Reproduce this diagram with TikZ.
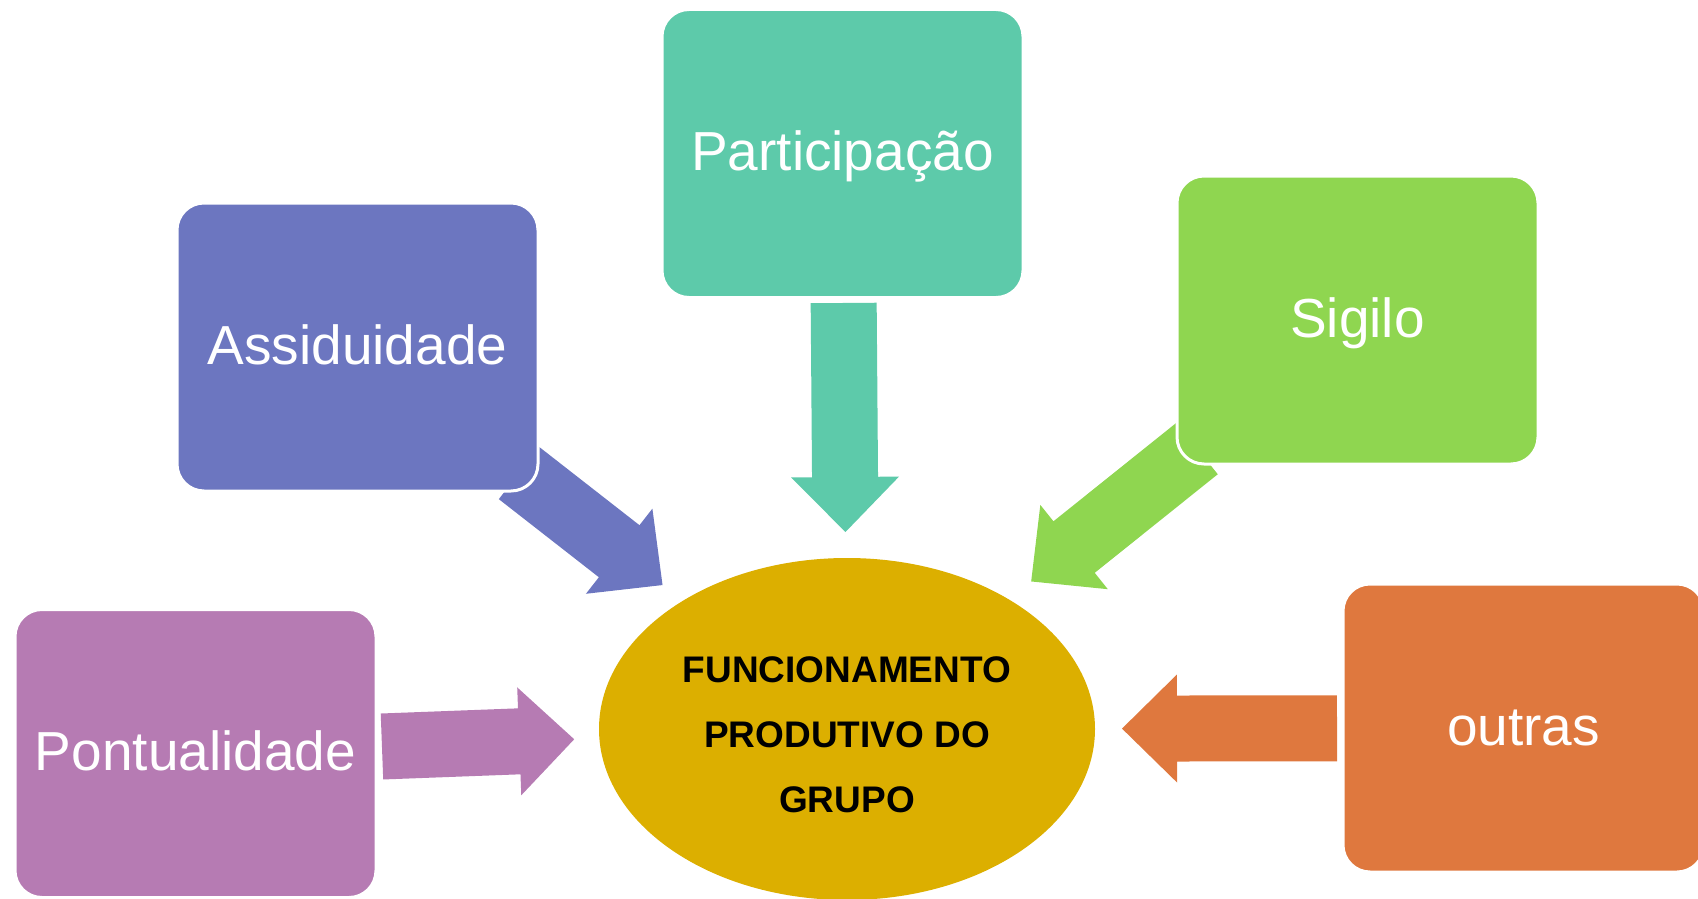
\documentclass[tikz,border=0pt]{standalone}
\usepackage{fontspec}
\setmainfont{Liberation Sans}
\usepackage{tikz}
\usetikzlibrary{calc,shapes.geometric,backgrounds}

\definecolor{assidcol}{HTML}{6C76C0}
\definecolor{particcol}{HTML}{5DCAAA}
\definecolor{sigilocol}{HTML}{8FD650}
\definecolor{pontualcol}{HTML}{B67BB3}
\definecolor{outrascol}{HTML}{DF783E}
\definecolor{fpgcol}{HTML}{DCAF00}

% block arrow: colour, from node, to node, gap at start, gap at tip
\newcommand{\blockarrow}[5]{%
  \coordinate (bs) at ($(#2.center)!#4!(#3.center)$);
  \coordinate (bt) at ($(#3.center)!#5!(#2.center)$);
  \coordinate (bh) at ($(bt)!55pt!(bs)$);
  \fill[#1] ($(bs)!33pt!90:(bt)$) -- ($(bh)!33pt!-90:(bs)$) -- ($(bh)!54pt!-90:(bs)$)
    -- (bt) -- ($(bh)!54pt!90:(bs)$) -- ($(bh)!33pt!90:(bs)$) -- ($(bs)!33pt!-90:(bt)$) -- cycle;
}

\begin{document}
\begin{tikzpicture}[x=1pt,y=-1pt,
  box/.style={rectangle,rounded corners=27pt,draw=white,line width=3pt,
    minimum width=361pt,minimum height=288pt,inner sep=0pt,
    text=white,font=\fontsize{55}{60}\selectfont,text height=34pt,text depth=0pt}]
  \useasboundingbox (0,0) rectangle (1698,899);

  \node (fpg) [ellipse,fill=fpgcol,minimum width=496pt,minimum height=342pt,inner sep=0pt]
    at (847,729) {};
  \node (fpgtext) [align=center,font=\fontsize{37}{65}\selectfont\bfseries]
    at ($(fpg.center)+(0,5.5)$) {FUNCIONAMENTO\\PRODUTIVO DO\\GRUPO};
  \node (assid) [box,fill=assidcol] at (357.5,347) {Assiduidade};
  \node (partic) [box,fill=particcol] at (842.5,153.5) {Participação};
  \node (sigilo) [box,fill=sigilocol] at (1357.5,320) {Sigilo};
  \node (pontual) [box,fill=pontualcol] at (195.5,753.5) {Pontualidade};
  \node (outras) [box,fill=outrascol] at (1523.5,728) {outras};

  \begin{pgfonlayer}{background}
    \blockarrow{assidcol}{assid}{fpg}{205pt}{234pt}
    \blockarrow{particcol}{partic}{fpg}{149.5pt}{197pt}
    \blockarrow{sigilocol}{sigilo}{fpg}{205.5pt}{236pt}
    \blockarrow{pontualcol}{pontual}{fpg}{186.6pt}{273pt}
    \blockarrow{outrascol}{outras}{fpg}{186.5pt}{275pt}
  \end{pgfonlayer}
\end{tikzpicture}
\end{document}
